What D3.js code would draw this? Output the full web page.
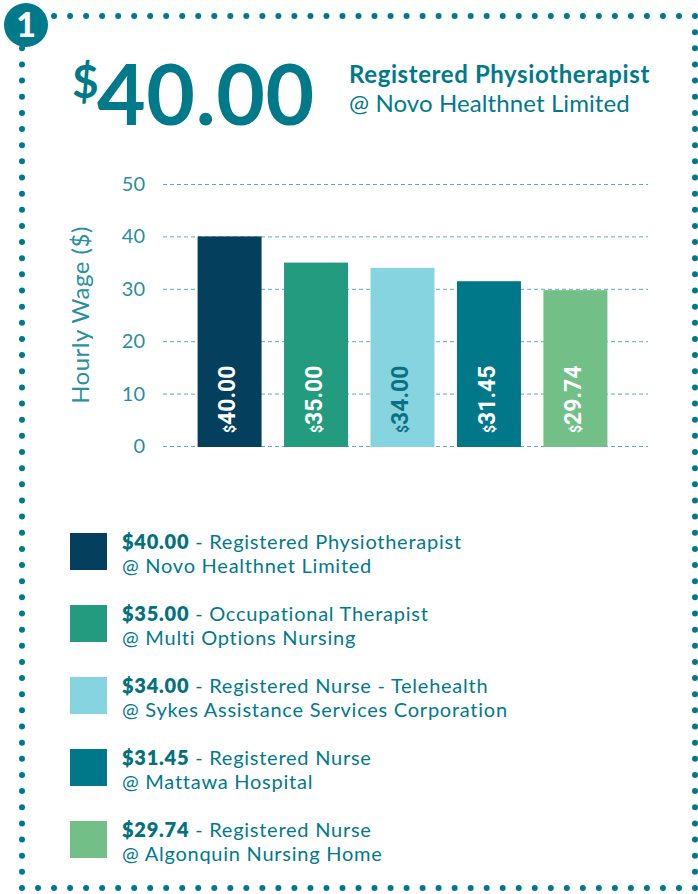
<!DOCTYPE html>
<html>
<head>
<meta charset="utf-8">
<script src="https://cdn.jsdelivr.net/npm/d3@7"></script>
<style>
  body { margin: 0; background: #fff; }
  svg { display: block; font-family: Lato, "Open Sans", sans-serif; }
</style>
</head>
<body>
<div id="chart"></div>
<script>
// Données du graphique
const wages = [40.0, 35.0, 34.0, 31.45, 29.74];
const jobTitles = [
  "Registered Physiotherapist",
  "Occupational Therapist",
  "Registered Nurse - Telehealth",
  "Registered Nurse",
  "Registered Nurse",
];
const employers = [
  "Novo Healthnet Limited",
  "Multi Options Nursing",
  "Sykes Assistance Services Corporation",
  "Mattawa Hospital",
  "Algonquin Nursing Home",
];
const barColors = ["#053f5e", "#239b7e", "#87d4e1", "#00788a", "#72bf87"];
const barLabelColors = ["#ffffff", "#ffffff", "#0b7182", "#ffffff", "#ffffff"];
const yTicks = [0, 10, 20, 30, 40, 50];

const W = 698, H = 894;
const teal = "#007a8a";
const tickTeal = "#2a8fa0";

const svg = d3.select("#chart").append("svg").attr("width", W).attr("height", H);

// Bordure en pointillés
const border = { x0: 22, y0: 16, x1: 695, y1: 888 };
const dots = [];
const nx = 42, ny = 54;
d3.range(nx + 1).forEach((i) => {
  const x = border.x0 + (i * (border.x1 - border.x0)) / nx;
  dots.push([x, border.y0], [x, border.y1]);
});
d3.range(1, ny).forEach((i) => {
  const y = border.y0 + (i * (border.y1 - border.y0)) / ny;
  dots.push([border.x0, y], [border.x1, y]);
});
svg.append("g")
  .selectAll("circle")
  .data(dots)
  .join("circle")
  .attr("cx", (d) => d[0])
  .attr("cy", (d) => d[1])
  .attr("r", 3)
  .attr("fill", teal);

// Pastille numéro
svg.append("circle").attr("cx", 26).attr("cy", 25).attr("r", 22).attr("fill", teal);
svg.append("text")
  .attr("x", 26)
  .attr("y", 37)
  .attr("text-anchor", "middle")
  .attr("fill", "#fff")
  .style("font-size", "34px")
  .style("font-weight", "900")
  .text("1");

// En-tête
svg.append("text")
  .attr("x", 72)
  .attr("y", 98)
  .attr("fill", teal)
  .style("font-size", "46px")
  .style("font-weight", "700")
  .text("$");
svg.append("text")
  .attr("x", 97)
  .attr("y", 125)
  .attr("fill", teal)
  .style("font-size", "84px")
  .style("font-weight", "700")
  .style("letter-spacing", "0.6px")
  .text(wages[0].toFixed(2));
svg.append("text")
  .attr("x", 349)
  .attr("y", 83)
  .attr("fill", teal)
  .style("font-size", "24px")
  .style("font-weight", "700")
  .style("letter-spacing", "0.6px")
  .text(jobTitles[0]);
svg.append("text")
  .attr("x", 349)
  .attr("y", 112)
  .attr("fill", teal)
  .style("font-size", "24px")
  .style("font-weight", "400")
  .style("letter-spacing", "0.1px")
  .text("@ " + employers[0]);

// Graphique à barres
const plot = { left: 163, right: 648, top: 184, bottom: 446 };

const x = d3.scaleBand()
  .domain(d3.range(wages.length))
  .range([plot.left, 642])
  .paddingInner(0.26)
  .paddingOuter(0.4);

const y = d3.scaleLinear()
  .domain([0, 50])
  .range([plot.bottom, plot.top]);

svg.append("g")
  .attr("transform", `translate(${plot.left},0)`)
  .call(
    d3.axisLeft(y)
      .tickValues(yTicks)
      .tickSize(-(plot.right - plot.left))
      .tickPadding(18)
  )
  .call((g) => {
    g.select(".domain").remove();
    g.selectAll(".tick line")
      .attr("stroke", "#5eabb7")
      .attr("stroke-dasharray", "4,3");
    g.selectAll(".tick text")
      .attr("fill", tickTeal)
      .style("font-family", "Lato, sans-serif")
      .style("font-size", "20px")
      .style("font-weight", "400");
  });

svg.append("text")
  .attr("transform", `translate(89,${(plot.top + plot.bottom) / 2}) rotate(-90)`)
  .attr("text-anchor", "middle")
  .attr("fill", tickTeal)
  .style("font-size", "24px")
  .style("font-weight", "400")
  .style("letter-spacing", "0.5px")
  .text("Hourly Wage ($)");

svg.append("g")
  .selectAll("rect")
  .data(wages)
  .join("rect")
  .attr("x", (d, i) => x(i))
  .attr("y", (d) => y(d))
  .attr("width", x.bandwidth())
  .attr("height", (d) => y(0) - y(d) + 1)
  .attr("fill", (d, i) => barColors[i]);

// Étiquettes verticales dans les barres
const labels = svg.append("g")
  .selectAll("text")
  .data(wages)
  .join("text")
  .attr("transform", (d, i) => `translate(${x(i) + x.bandwidth() / 2},${y(0) - 13}) rotate(-90)`)
  .attr("dy", "0.36em")
  .attr("fill", (d, i) => barLabelColors[i])
  .style("font-family", "Roboto, Lato, sans-serif")
  .style("font-weight", "700");
labels.append("tspan")
  .style("font-size", "14px")
  .style("font-weight", "700")
  .text("$");
labels.append("tspan")
  .style("font-size", "23px")
  .style("font-weight", "700")
  .text((d) => d.toFixed(2));

// Légende
const legend = svg.append("g")
  .selectAll("g")
  .data(wages)
  .join("g")
  .attr("transform", (d, i) => `translate(70,${533 + i * 72})`);

legend.append("rect")
  .attr("width", 37)
  .attr("height", 37)
  .attr("fill", (d, i) => barColors[i]);

const line1 = legend.append("text")
  .attr("x", 52)
  .attr("y", 16)
  .attr("fill", teal)
  .style("font-size", "20px")
  .style("letter-spacing", "0.75px");
line1.append("tspan")
  .style("font-weight", "800")
  .attr("fill", "#03717f")
  .text((d) => "$" + d.toFixed(2));
line1.append("tspan")
  .style("font-weight", "400")
  .text((d, i) => " - " + jobTitles[i]);

legend.append("text")
  .attr("x", 52)
  .attr("y", 40)
  .attr("fill", teal)
  .style("font-size", "20px")
  .style("font-weight", "400")
  .style("letter-spacing", "0.75px")
  .text((d, i) => "@ " + employers[i]);
</script>
</body>
</html>
